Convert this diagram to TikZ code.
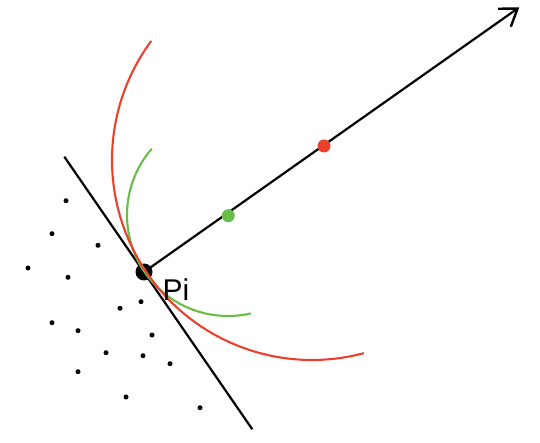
\documentclass[tikz,border=0pt]{standalone}
\usepackage{fontspec}
\setmainfont{Liberation Sans}
\usetikzlibrary{arrows.meta}
\definecolor{myred}{RGB}{236,64,44}
\definecolor{mygreen}{RGB}{104,190,72}
\tikzset{
  blk/.style={line width=2.2pt, black},
  arcred/.style={line width=2.1pt, myred},
  arcgreen/.style={line width=2.1pt, mygreen},
  pt/.style={circle, fill=black, inner sep=0pt, minimum size=5pt},
  bigpt/.style={circle, fill=black, inner sep=0pt, minimum size=17pt},
  cdot/.style={circle, inner sep=0pt, minimum size=13pt},
}
\begin{document}
\begin{tikzpicture}[x=1pt,y=-1pt]
\useasboundingbox (0,0) rectangle (540,443);
% tangent line
\coordinate (t1) at (64.3,156.7);
\coordinate (t2) at (252.3,429.3);
\draw[blk] (t1) -- (t2);
% point cloud
\foreach \x/\y [count=\i] in {66/200.7,52/233.7,98/245.3,28/268,68/277.3,141/301.7,120/308.3,52/322.7,78/330.7,152/335,106/352.7,143/355.7,170/363.7,78/371.7,126/397,200/407.7}
  \node[pt] (d\i) at (\x,\y) {};
% main point
\node[bigpt] (P) at (144,272) {};
\coordinate (tip) at (519.3,7.3);
\draw[blk, -{Straight Barb[length=16pt,width=22pt,line width=2.4pt]}] (P.center) -- (tip);
% arcs
\draw[arcgreen] plot[domain=77:221, samples=120, smooth] ({228+101*cos(\x)},{215+101*sin(\x)});
\draw[arcred] plot[domain=75:216.5, samples=160, smooth] ({312+200*cos(\x)},{160+200*sin(\x)});
% centre dots
\node[cdot, fill=mygreen] (g) at (228.3,215.7) {};
\node[cdot, fill=myred] (r) at (324,146) {};
% label
\node[font=\fontsize{30}{30}\selectfont, inner sep=0pt] (lab) at (176,290) {Pi};
\end{tikzpicture}
\end{document}
